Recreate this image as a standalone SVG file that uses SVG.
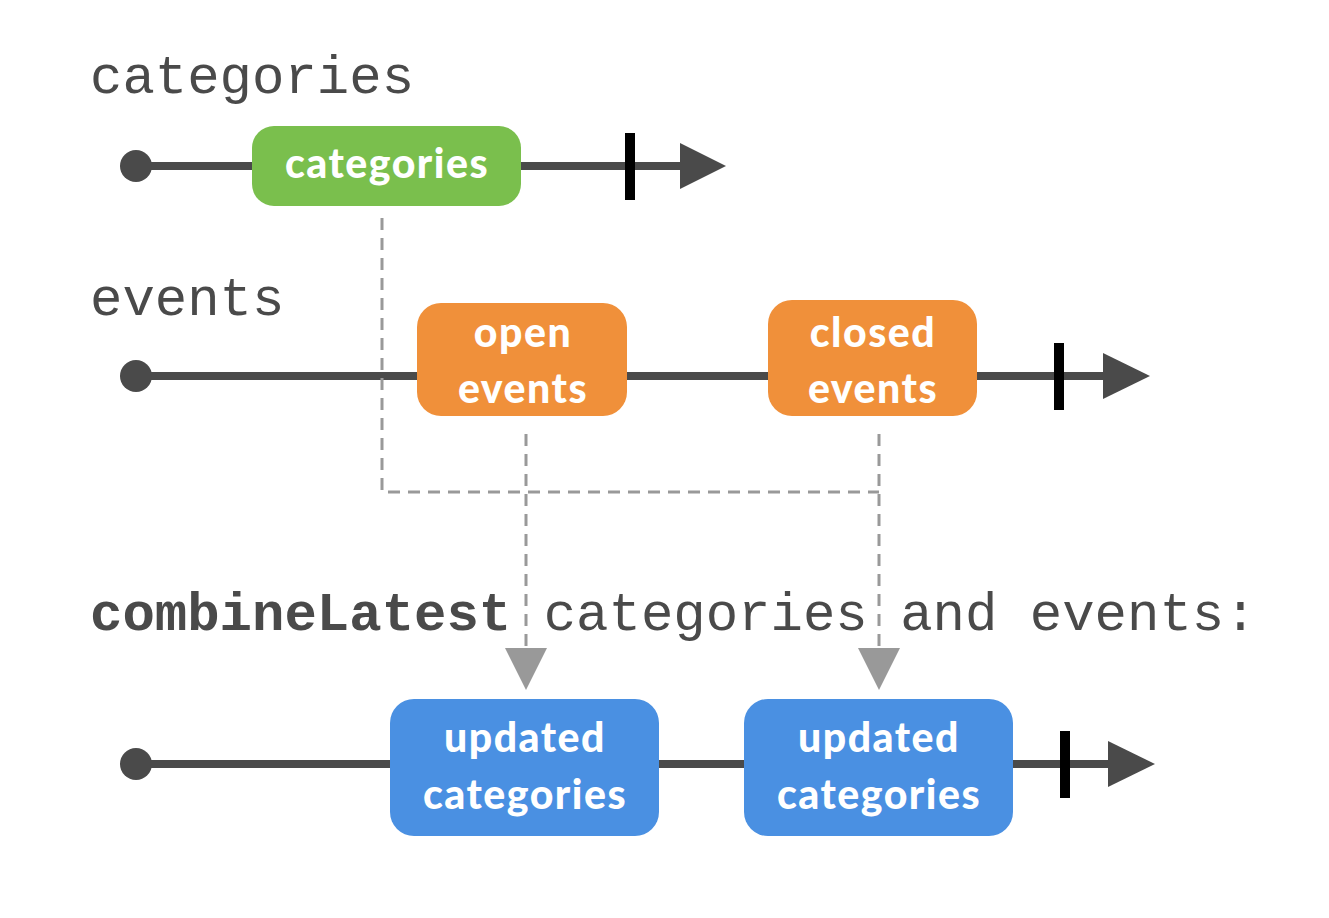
<svg xmlns="http://www.w3.org/2000/svg" width="1329" height="918" viewBox="0 0 1329 918">
<style>
.lbl{font-family:"Liberation Mono","DejaVu Sans Mono",monospace;font-size:54px;fill:#4a4a4a}
.bold{font-weight:bold}
.line{stroke:#4a4a4a;stroke-width:8;fill:none}
.dot{fill:#4a4a4a}
.head{fill:#4a4a4a}
.term{fill:#000}
.dash{stroke:#999;stroke-width:3;stroke-dasharray:12 8;fill:none}
.ghead{fill:#999}
.btxt{font-family:Lato,"Open Sans",sans-serif;font-weight:900;font-size:41px;letter-spacing:1.5px;fill:#fff;text-anchor:middle}
.green{fill:#7abf4d}
.orange{fill:#f0903a}
.blue{fill:#4a90e2}
</style>
<rect width="1329" height="918" fill="#fff"/>
<g id="labels">
<text class="lbl" x="90" y="93">categories</text>
<text class="lbl" x="90" y="315">events</text>
<text class="lbl" x="90" y="630"><tspan class="bold">combineLatest</tspan> categories and events:</text>
</g>
<g id="timelines">
<line class="line" x1="136" y1="166" x2="690" y2="166"/>
<circle class="dot" cx="136" cy="166" r="16"/>
<rect class="term" x="625" y="133" width="10" height="67"/>
<polygon class="head" points="680,143 726,166 680,189"/>
<line class="line" x1="136" y1="376" x2="1110" y2="376"/>
<circle class="dot" cx="136" cy="376" r="16"/>
<rect class="term" x="1054" y="343" width="10" height="67"/>
<polygon class="head" points="1103,353 1150,376 1103,399"/>
<line class="line" x1="136" y1="764" x2="1115" y2="764"/>
<circle class="dot" cx="136" cy="764" r="16"/>
<rect class="term" x="1060" y="731" width="10" height="67"/>
<polygon class="head" points="1108,741 1155,764 1108,787"/>
</g>
<g id="node-categories">
<rect class="green" x="252" y="126" width="269" height="80" rx="22"/>
<text class="btxt" x="387" y="178">categories</text>
</g>
<g id="node-open-events">
<rect class="orange" x="417" y="303" width="210" height="113" rx="24"/>
<text class="btxt" x="523" y="347">open</text>
<text class="btxt" x="523" y="403">events</text>
</g>
<g id="node-closed-events">
<rect class="orange" x="768" y="300" width="209" height="116" rx="24"/>
<text class="btxt" x="873" y="347">closed</text>
<text class="btxt" x="873" y="403">events</text>
</g>
<g id="node-updated-1">
<rect class="blue" x="390" y="699" width="269" height="137" rx="24"/>
<text class="btxt" x="525" y="752">updated</text>
<text class="btxt" x="525" y="809">categories</text>
</g>
<g id="node-updated-2">
<rect class="blue" x="744" y="699" width="269" height="137" rx="24"/>
<text class="btxt" x="879" y="752">updated</text>
<text class="btxt" x="879" y="809">categories</text>
</g>
<g id="connectors">
<polyline class="dash" points="382,218 382,492 879,492"/>
<line class="dash" x1="526" y1="434" x2="526" y2="650"/>
<polygon class="ghead" points="505,648 547,648 526,690"/>
<line class="dash" x1="879" y1="434" x2="879" y2="650"/>
<polygon class="ghead" points="858,648 900,648 879,690"/>
</g>
</svg>
